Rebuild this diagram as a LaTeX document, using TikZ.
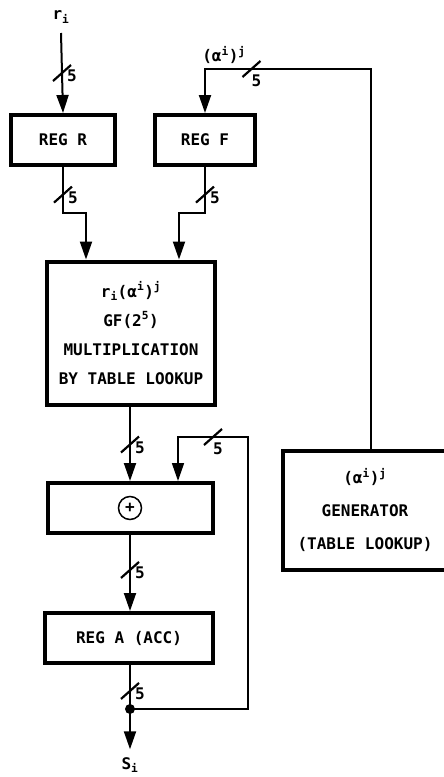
\documentclass[tikz,border=0pt]{standalone}
\usepackage{fontspec}
\setmainfont{DejaVu Sans Mono}
\usetikzlibrary{arrows.meta,positioning,calc}
\tikzset{
  regbox/.style={draw, line width=4pt, minimum width=104pt, minimum height=50pt,
    font=\fontsize{16}{29}\selectfont\bfseries, align=center, inner sep=0pt},
  wire/.style={line width=2pt},
  loopwire/.style={line width=1.7pt},
  feed/.style={-{Triangle[length=18pt,width=12pt]}},
  buslabel/.style={font=\fontsize{16}{16}\selectfont\bfseries, inner sep=0pt},
  siglabel/.style={font=\fontsize{16}{16}\selectfont\bfseries, inner sep=0pt},
  vbus/.pic={
    \draw[line width=2.2pt, arrows=-] (-9,8) -- (9,-8);
    \node[buslabel] at (10,3) {5};
  },
  hbus/.pic={
    \draw[line width=2.2pt, arrows=-] (-9,8) -- (9,-8);
    \node[buslabel] at (5,12) {5};
  }
}
\begin{document}
\begin{tikzpicture}[x=1pt, y=-1pt]
  \useasboundingbox (0,0) rectangle (444,777);
  % registers and blocks
  \node[regbox] (regR) at (63,140) {REG R};
  \node[regbox, minimum width=100pt] (regF) at (205,140) {REG F};
  \node[regbox, minimum width=168pt, minimum height=143pt] (mult) at (131,333)
    {r\textsubscript{i}(α\textsuperscript{i})\textsuperscript{j}\\GF(2\textsuperscript{5})\\MULTIPLICATION\\BY TABLE LOOKUP};
  \node[regbox, minimum width=165pt] (xor) at (130,508) {};
  \node[draw, circle, line width=1.5pt, minimum size=23pt, inner sep=0pt,
    font=\fontsize{16}{16}\selectfont\bfseries] (oplus) at (xor.center) {+};
  \node[regbox, minimum width=168pt] (regA) at (129,638) {REG A (ACC)};
  \node[regbox, minimum width=164pt, minimum height=119pt,
    font=\fontsize{16}{33}\selectfont\bfseries] (gen) at (365,510)
    {(α\textsuperscript{i})\textsuperscript{j}\\GENERATOR\\(TABLE LOOKUP)};
  % signal labels
  \node[siglabel] (rlab) at (61,17) {r\textsubscript{i}};
  \node[siglabel] (alab) at (224,55) {(α\textsuperscript{i})\textsuperscript{j}};
  \node[siglabel] (slab) at (130,765) {S\textsubscript{i}};
  \coordinate (gtop) at (371,69);
  \coordinate (ftop) at (205,69);
  \coordinate (jn) at (130,709);
  \coordinate (loopbot) at (248,709);
  \coordinate (looptop) at (248,437);
  % connections
  \draw[wire, feed] (61,33) -- pic[pos=.5]{vbus} (regR.north);
  \draw[wire, feed] ([xshift=6pt]gen.north) -- (gtop)
    -- pic[pos=.72]{hbus} (ftop) -- (regF.north);
  \draw[wire, feed] (regR.south) -- pic[pos=.6]{vbus} ++(0,46)
    -| ([xshift=-45pt]mult.north);
  \draw[wire, feed] (regF.south) -- pic[pos=.6]{vbus} ++(0,46)
    -| ([xshift=48pt]mult.north);
  \draw[wire, feed] (mult.south -| xor.north) -- pic[pos=.51]{vbus} (xor.north);
  \draw[wire, feed] (xor.south) -- pic[pos=.46]{vbus} (regA.north -| xor.south);
  \draw[wire] (regA.south -| jn) -- pic[pos=.59]{vbus} (jn);
  \draw[loopwire, feed] (jn) -- (loopbot) -- (looptop)
    -- pic[pos=.5]{hbus} ([xshift=48pt]xor.north |- looptop)
    -- ([xshift=48pt]xor.north);
  \draw[wire, feed] (jn) -- ([yshift=8pt]slab.north);
  \fill (jn) circle (5pt);
\end{tikzpicture}
\end{document}
